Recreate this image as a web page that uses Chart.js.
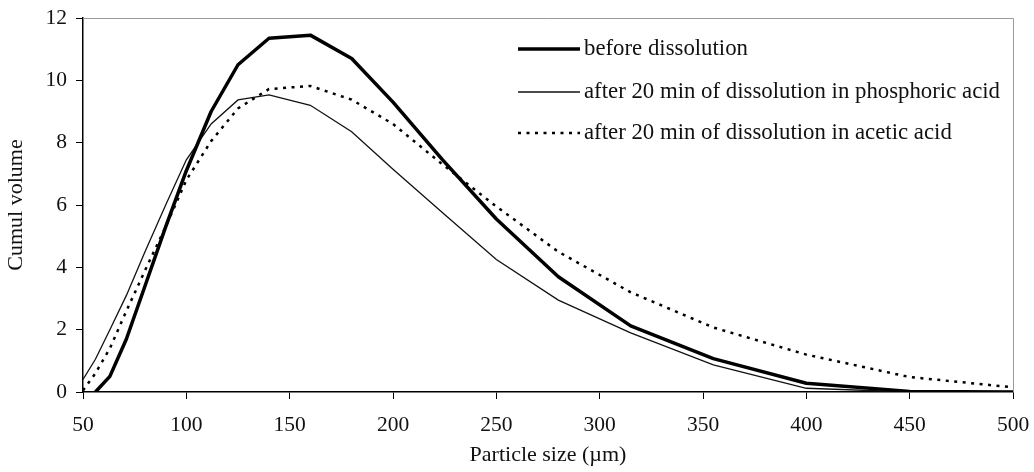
<!DOCTYPE html>
<html>
<head>
<meta charset="utf-8">
<script src="https://cdn.jsdelivr.net/npm/chart.js@4.4.1/dist/chart.umd.min.js"></script>
<style>
    html, body { margin: 0; padding: 0; background: #fff; }
    #wrap { width: 1034px; height: 472px; position: relative; }
</style>
</head>
<body>
<div id="wrap"><canvas id="psdChart"></canvas></div>
<script>
// particle size classes (µm)
const sizes = [50, 56, 63, 71, 80, 90, 100, 112, 125, 140, 160, 180, 200, 224, 250, 280, 315, 355, 400, 450, 500];

// cumul volume
const beforeDissolution = [null, 0, 0.5, 1.7, 3.4, 5.3, 7.1, 9.0, 10.5, 11.35, 11.45, 10.7, 9.3, 7.45, 5.55, 3.7, 2.12, 1.07, 0.28, 0.02, 0];
const phosphoricAcid = [0.4, 1.05, 2.0, 3.1, 4.5, 6.0, 7.45, 8.6, 9.37, 9.53, 9.2, 8.35, 7.15, 5.75, 4.25, 2.95, 1.9, 0.87, 0.12, 0, 0];
const aceticAcid = [0.05, 0.6, 1.4, 2.6, 3.9, 5.3, 6.8, 8.05, 9.1, 9.72, 9.82, 9.38, 8.6, 7.3, 5.95, 4.5, 3.2, 2.07, 1.2, 0.48, 0.15];

const seriesLabels = [
    'before dissolution',
    'after 20 min of dissolution in phosphoric acid',
    'after 20 min of dissolution in acetic acid'
];

const xTicks = [50, 100, 150, 200, 250, 300, 350, 400, 450, 500];
const yTicks = [0, 2, 4, 6, 8, 10, 12];

const FONT = '"Liberation Serif", "Times New Roman", serif';

function toPoints(values) {
    return sizes.map((s, i) => ({ x: s, y: values[i] }));
}

// gray frame on top and right
const framePlugin = {
    id: 'frame',
    afterDraw(chart) {
        const { ctx, chartArea: a } = chart;
        ctx.save();
        ctx.strokeStyle = '#9a9a9a';
        ctx.lineWidth = 1;
        ctx.beginPath();
        ctx.moveTo(a.left, a.top + 0.5);
        ctx.lineTo(a.right + 0.5, a.top + 0.5);
        ctx.lineTo(a.right + 0.5, a.bottom);
        ctx.stroke();
        ctx.restore();
    }
};

// legend drawn inside the plot, upper right
const legendPlugin = {
    id: 'insideLegend',
    afterDraw(chart) {
        const { ctx, chartArea: a } = chart;
        const rows = [31, 74, 115];
        const x0 = a.left + 435;
        const x1 = a.left + 497;
        ctx.save();
        chart.data.datasets.forEach((ds, i) => {
            const y = a.top + rows[i];
            ctx.beginPath();
            ctx.strokeStyle = ds.borderColor;
            ctx.lineWidth = ds.borderWidth;
            ctx.setLineDash(ds.borderDash || []);
            ctx.moveTo(x0, y);
            ctx.lineTo(x1, y);
            ctx.stroke();
            ctx.setLineDash([]);
            ctx.fillStyle = '#111';
            ctx.font = '22.8px ' + FONT;
            ctx.textBaseline = 'middle';
            ctx.fillText(ds.label, x1 + 4, y);
        });
        ctx.restore();
    }
};

const ctx = document.getElementById('psdChart').getContext('2d');
new Chart(ctx, {
    type: 'line',
    data: {
        datasets: [
            {
                label: seriesLabels[0],
                data: toPoints(beforeDissolution),
                borderColor: '#000',
                borderWidth: 3.5,
                borderJoinStyle: 'round'
            },
            {
                label: seriesLabels[1],
                data: toPoints(phosphoricAcid),
                borderColor: '#111',
                borderWidth: 1.3
            },
            {
                label: seriesLabels[2],
                data: toPoints(aceticAcid),
                borderColor: '#000',
                borderWidth: 2.5,
                borderDash: [3, 5.5]
            }
        ]
    },
    options: {
        responsive: true,
        maintainAspectRatio: false,
        animation: false,
        layout: { padding: { top: 18, right: 21, left: 0, bottom: 0 } },
        elements: {
            point: { radius: 0 },
            line: { tension: 0, fill: false }
        },
        plugins: {
            legend: { display: false },
            tooltip: { enabled: false }
        },
        scales: {
            x: {
                type: 'linear',
                min: 50,
                max: 500,
                afterFit: s => {
                    s.height = 80;
                    s.paddingLeft = 0;
                    s.paddingRight = 0;
                },
                afterBuildTicks: s => { s.ticks = xTicks.map(v => ({ value: v })); },
                ticks: {
                    color: '#111',
                    font: { family: FONT, size: 21.5 },
                    padding: 13,
                    maxRotation: 0
                },
                grid: { drawOnChartArea: false, drawTicks: true, tickLength: 7, color: '#000' },
                border: { color: '#000', width: 1.5 },
                title: {
                    display: true,
                    text: 'Particle size (µm)',
                    color: '#111',
                    font: { family: FONT, size: 22 },
                    padding: { top: 0, bottom: 4 }
                }
            },
            y: {
                min: 0,
                max: 12,
                afterFit: s => {
                    s.width = 83;
                    s.paddingTop = 0;
                    s.paddingBottom = 0;
                },
                afterBuildTicks: s => { s.ticks = yTicks.map(v => ({ value: v })); },
                ticks: {
                    color: '#111',
                    font: { family: FONT, size: 21.5 },
                    padding: 9
                },
                grid: { drawOnChartArea: false, drawTicks: true, tickLength: 7, color: '#000' },
                border: { color: '#000', width: 1.5 },
                title: {
                    display: true,
                    text: 'Cumul volume',
                    color: '#111',
                    font: { family: FONT, size: 22 },
                    padding: { top: 3, bottom: 0 }
                }
            }
        }
    },
    plugins: [framePlugin, legendPlugin]
});
</script>
</body>
</html>
